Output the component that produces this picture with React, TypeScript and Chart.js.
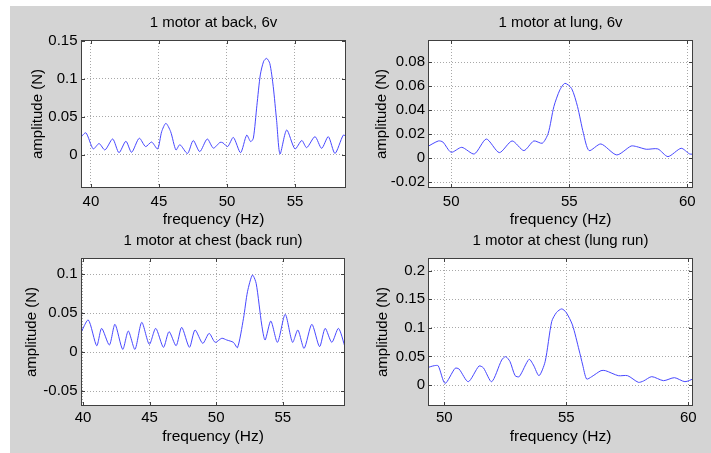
import React, { useEffect, useRef } from "react";
import { Chart, registerables } from "chart.js";

Chart.register(...registerables);

const FONT = "'Liberation Sans', Arial, Helvetica, sans-serif";

// ---------- Panel 1: 1 motor at back, 6v ----------
const titleBack = "1 motor at back, 6v";
const freqBack = [39.2, 39.63, 40.17, 40.6, 41.03, 41.6, 42.06, 42.57, 42.99, 43.55, 44.02, 44.46, 44.9, 45.2, 45.51, 45.86, 46.25, 46.54, 47.1, 47.52, 48.0, 48.55, 49.0, 49.49, 49.7, 50.05, 50.47, 51.0, 51.45, 51.74, 51.94, 52.2, 52.45, 52.7, 52.92, 53.15, 53.4, 53.65, 53.9, 54.39, 55.0, 55.5, 55.86, 56.47, 56.96, 57.45, 57.94, 58.55, 58.8];
const ampBack = [0.022, 0.029, 0.008, 0.015, 0.0066, 0.021, 0.003, 0.018, 0.0035, 0.022, 0.011, 0.017, 0.008, 0.0306, 0.0415, 0.0306, 0.0066, 0.0135, 0.002, 0.019, 0.0044, 0.021, 0.009, 0.0166, 0.016, 0.011, 0.023, 0.003, 0.026, 0.0175, 0.022, 0.065, 0.105, 0.123, 0.1267, 0.12, 0.09, 0.045, 0.0013, 0.0328, 0.008, 0.019, 0.0096, 0.024, 0.0087, 0.024, 0.002, 0.026, 0.024];
const xTicksBack = [40, 45, 50, 55];
const xTickLabelsBack = ["40", "45", "50", "55"];
const yTicksBack = [0, 0.05, 0.1, 0.15];
const yTickLabelsBack = ["0", "0.05", "0.1", "0.15"];

// ---------- Panel 2: 1 motor at lung, 6v ----------
const titleLung = "1 motor at lung, 6v";
const freqLung = [49.0, 49.46, 49.65, 50.0, 50.45, 50.98, 51.49, 52.04, 52.58, 53.08, 53.5, 53.86, 54.11, 54.35, 54.6, 54.82, 55.1, 55.35, 55.6, 55.84, 56.34, 57.01, 57.62, 57.85, 58.26, 58.75, 59.18, 59.74, 60.1, 60.35];
const ampLung = [0.0097, 0.0144, 0.0135, 0.005, 0.0091, 0.0036, 0.016, 0.0047, 0.0144, 0.0064, 0.0144, 0.0125, 0.0208, 0.043, 0.0567, 0.0623, 0.058, 0.043, 0.0208, 0.0064, 0.0119, 0.0028, 0.0102, 0.0097, 0.0075, 0.0078, 0.0014, 0.0083, 0.0036, 0.0036];
const xTicksLung = [50, 55, 60];
const xTickLabelsLung = ["50", "55", "60"];
const yTicksLung = [-0.02, 0, 0.02, 0.04, 0.06, 0.08];
const yTickLabelsLung = ["-0.02", "0", "0.02", "0.04", "0.06", "0.08"];

// ---------- Panel 3: 1 motor at chest (back run) ----------
const titleChestBack = "1 motor at chest (back run)";
const freqChestBack = [39.82, 40.4, 41.03, 41.4, 41.98, 42.4, 42.98, 43.4, 43.9, 44.41, 44.98, 45.46, 46.04, 46.46, 46.99, 47.41, 47.99, 48.41, 48.99, 49.47, 49.92, 50.42, 50.79, 51.29, 51.6, 52.05, 52.35, 52.72, 53.0, 53.42, 53.67, 54.1, 54.6, 55.18, 55.73, 56.13, 56.6, 57.18, 57.76, 58.18, 58.68, 59.18, 59.7];
const ampChestBack = [0.0243, 0.0414, 0.0085, 0.0307, 0.0094, 0.0359, 0.0038, 0.0273, 0.0038, 0.0384, 0.0102, 0.0307, 0.0064, 0.0265, 0.0085, 0.032, 0.0064, 0.0286, 0.0115, 0.0243, 0.0128, 0.018, 0.0158, 0.0128, 0.006, 0.0436, 0.0777, 0.099, 0.0884, 0.035, 0.0158, 0.0401, 0.0128, 0.0487, 0.0128, 0.0286, 0.0051, 0.0359, 0.0073, 0.0307, 0.0128, 0.0307, 0.0051];
const xTicksChestBack = [40, 45, 50, 55];
const xTickLabelsChestBack = ["40", "45", "50", "55"];
const yTicksChestBack = [-0.05, 0, 0.05, 0.1];
const yTickLabelsChestBack = ["-0.05", "0", "0.05", "0.1"];

// ---------- Panel 4: 1 motor at chest (lung run) ----------
const titleChestLung = "1 motor at chest (lung run)";
const freqChestLung = [49.3, 49.59, 49.75, 50.03, 50.44, 50.6, 50.98, 51.42, 51.6, 51.94, 52.35, 52.51, 52.69, 52.9, 53.07, 53.47, 53.65, 53.88, 54.13, 54.4, 54.6, 54.81, 54.99, 55.25, 55.52, 55.67, 55.83, 56.04, 56.42, 56.6, 57.13, 57.51, 57.95, 58.16, 58.5, 58.98, 59.43, 59.86, 60.25];
const ampChestLung = [0.0303, 0.0338, 0.0335, 0.0029, 0.0292, 0.028, 0.0058, 0.0332, 0.03, 0.0058, 0.0437, 0.0496, 0.041, 0.0163, 0.0146, 0.0449, 0.035, 0.0163, 0.0408, 0.111, 0.127, 0.133, 0.127, 0.105, 0.0612, 0.035, 0.0105, 0.0146, 0.0251, 0.0251, 0.0163, 0.0163, 0.0047, 0.007, 0.0146, 0.0076, 0.0128, 0.0058, 0.0117];
const xTicksChestLung = [50, 55, 60];
const xTickLabelsChestLung = ["50", "55", "60"];
const yTicksChestLung = [0, 0.05, 0.1, 0.15, 0.2];
const yTickLabelsChestLung = ["0", "0.05", "0.1", "0.15", "0.2"];

const X_LABEL = "frequency (Hz)";
const Y_LABEL = "amplitude (N)";

type PanelProps = {
  title: string;
  freq: number[];
  amp: number[];
  xTicks: number[];
  xTickLabels: string[];
  yTicks: number[];
  yTickLabels: string[];
  xRange: [number, number];
  yRange: [number, number];
  frame: { cx: number; cy: number; cw: number; ch: number };
  plot: { L: number; T: number; R: number; B: number };
  titlePadTop: number;
  yLabelPad: number;
  yTickPad: number;
  xTickPad: number;
  xLabelPad: number;
};

const framePlugin = {
  id: "matlabFrame",
  beforeDraw(chart: any) {
    const { ctx, chartArea: a } = chart;
    ctx.save();
    ctx.fillStyle = "#ffffff";
    ctx.fillRect(a.left, a.top, a.right - a.left, a.bottom - a.top);
    ctx.restore();
  },
  afterDraw(chart: any) {
    const { ctx, chartArea: a, scales } = chart;
    ctx.save();
    ctx.strokeStyle = "#404040";
    ctx.lineWidth = 1;
    ctx.strokeRect(a.left + 0.5, a.top + 0.5, a.right - a.left - 1, a.bottom - a.top - 1);
    const tl = 4;
    ctx.beginPath();
    scales.x.ticks.forEach((t: any) => {
      const px = Math.round(scales.x.getPixelForValue(t.value)) + 0.5;
      if (px < a.left || px > a.right) return;
      ctx.moveTo(px, a.bottom);
      ctx.lineTo(px, a.bottom - tl);
      ctx.moveTo(px, a.top);
      ctx.lineTo(px, a.top + tl);
    });
    scales.y.ticks.forEach((t: any) => {
      const py = Math.round(scales.y.getPixelForValue(t.value)) + 0.5;
      if (py < a.top || py > a.bottom) return;
      ctx.moveTo(a.left, py);
      ctx.lineTo(a.left + tl, py);
      ctx.moveTo(a.right, py);
      ctx.lineTo(a.right - tl, py);
    });
    ctx.stroke();
    ctx.restore();
  },
};

function Panel(p: PanelProps) {
  const ref = useRef<HTMLCanvasElement | null>(null);
  useEffect(() => {
    if (!ref.current) return;
    const { cx, cy, cw, ch } = p.frame;
    const { L, T, R, B } = p.plot;
    const yW = L - cx;
    const xH = ch - (B - cy);
    const rp = cw - (R - cx);
    const titleH = T - cy;
    const lh = 18;
    const titlePadBottom = titleH - lh - p.titlePadTop;
    const points = p.freq.map((f, i) => ({ x: f, y: p.amp[i] }));
    const chart = new Chart(ref.current, {
      type: "line",
      data: {
        datasets: [
          {
            data: points,
            borderColor: "#4848ff",
            borderWidth: 1,
            pointRadius: 0,
            tension: 0.25,
            fill: false,
          },
        ],
      },
      plugins: [framePlugin],
      options: {
        animation: false,
        responsive: false,
        events: [],
        layout: { padding: { left: 0, top: 0, right: rp, bottom: 0 } },
        plugins: {
          legend: { display: false },
          tooltip: { enabled: false },
          title: {
            display: true,
            text: p.title,
            fullSize: false,
            color: "#000",
            font: { family: FONT, size: 15, weight: "normal", lineHeight: 1.2 },
            padding: { top: p.titlePadTop, bottom: titlePadBottom },
          },
        },
        scales: {
          x: {
            type: "linear",
            min: p.xRange[0],
            max: p.xRange[1],
            afterBuildTicks: (s: any) => {
              s.ticks = p.xTicks.map((v) => ({ value: v }));
            },
            afterFit: (s: any) => {
              s.height = xH;
              s.paddingLeft = 0;
              s.paddingRight = 0;
            },
            ticks: {
              autoSkip: false,
              maxRotation: 0,
              minRotation: 0,
              padding: p.xTickPad,
              color: "#000",
              font: { family: FONT, size: 15, lineHeight: 1.2 },
              callback: (v: any) => {
                const i = p.xTicks.indexOf(Number(v));
                return i >= 0 ? p.xTickLabels[i] : "";
              },
            },
            grid: { color: "#a8a8a8", lineWidth: 1, drawTicks: false },
            border: { display: false, dash: [1, 2] },
            title: {
              display: true,
              text: X_LABEL,
              color: "#000",
              font: { family: FONT, size: 15.5, lineHeight: 1.2 },
              padding: { top: 0, bottom: p.xLabelPad },
            },
          },
          y: {
            type: "linear",
            min: p.yRange[0],
            max: p.yRange[1],
            afterBuildTicks: (s: any) => {
              s.ticks = p.yTicks.map((v) => ({ value: v }));
            },
            afterFit: (s: any) => {
              s.width = yW;
              s.paddingTop = 0;
              s.paddingBottom = 0;
            },
            ticks: {
              autoSkip: false,
              padding: p.yTickPad,
              color: "#000",
              font: { family: FONT, size: 15, lineHeight: 1.2 },
              callback: (v: any) => {
                const i = p.yTicks.indexOf(Number(v));
                return i >= 0 ? p.yTickLabels[i] : "";
              },
            },
            grid: { color: "#a8a8a8", lineWidth: 1, drawTicks: false },
            border: { display: false, dash: [1, 2] },
            title: {
              display: true,
              text: Y_LABEL,
              color: "#000",
              font: { family: FONT, size: 15, lineHeight: 1.2 },
              padding: { top: p.yLabelPad, bottom: 0 },
            },
          },
        },
      },
    } as any);
    return () => chart.destroy();
  }, []);
  const { cx, cy, cw, ch } = p.frame;
  return (
    <canvas
      ref={ref}
      width={cw}
      height={ch}
      style={{ position: "absolute", left: cx, top: cy, width: cw, height: ch }}
    />
  );
}

export default function App() {
  return (
    <div
      style={{
        position: "absolute",
        left: 0,
        top: 0,
        width: 711,
        height: 453,
        background: "#ffffff",
        overflow: "hidden",
        fontFamily: FONT,
      }}
    >
      <div
        style={{
          position: "absolute",
          left: 10,
          top: 6,
          width: 701,
          height: 447,
          background: "#d4d4d4",
        }}
      />
      <Panel
        title={titleBack}
        freq={freqBack}
        amp={ampBack}
        xTicks={xTicksBack}
        xTickLabels={xTickLabelsBack}
        yTicks={yTicksBack}
        yTickLabels={yTickLabelsBack}
        xRange={[39.27, 58.75]}
        yRange={[-0.0433, 0.1508]}
        frame={{ cx: 10, cy: 6, cw: 350, ch: 228 }}
        plot={{ L: 81, T: 40, R: 346, B: 188 }}
        titlePadTop={8}
        yLabelPad={19}
        yTickPad={3.5}
        xTickPad={4.7}
        xLabelPad={5}
      />
      <Panel
        title={titleLung}
        freq={freqLung}
        amp={ampLung}
        xTicks={xTicksLung}
        xTickLabels={xTickLabelsLung}
        yTicks={yTicksLung}
        yTickLabels={yTickLabelsLung}
        xRange={[49.02, 60.24]}
        yRange={[-0.0247, 0.0983]}
        frame={{ cx: 360, cy: 6, cw: 351, ch: 228 }}
        plot={{ L: 428, T: 40, R: 693, B: 188 }}
        titlePadTop={8}
        yLabelPad={13}
        yTickPad={3}
        xTickPad={4.7}
        xLabelPad={5}
      />
      <Panel
        title={titleChestBack}
        freq={freqChestBack}
        amp={ampChestBack}
        xTicks={xTicksChestBack}
        xTickLabels={xTickLabelsChestBack}
        yTicks={yTicksChestBack}
        yTickLabels={yTickLabelsChestBack}
        xRange={[39.85, 59.67]}
        yRange={[-0.0688, 0.1209]}
        frame={{ cx: 10, cy: 226, cw: 350, ch: 227 }}
        plot={{ L: 81, T: 258, R: 345, B: 406 }}
        titlePadTop={5.7}
        yLabelPad={13}
        yTickPad={3.5}
        xTickPad={2.7}
        xLabelPad={7.3}
      />
      <Panel
        title={titleChestLung}
        freq={freqChestLung}
        amp={ampChestLung}
        xTicks={xTicksChestLung}
        xTickLabels={xTickLabelsChestLung}
        yTicks={yTicksChestLung}
        yTickLabels={yTickLabelsChestLung}
        xRange={[49.33, 60.19]}
        yRange={[-0.0367, 0.222]}
        frame={{ cx: 360, cy: 226, cw: 351, ch: 227 }}
        plot={{ L: 428, T: 258, R: 693, B: 406 }}
        titlePadTop={5.7}
        yLabelPad={14.3}
        yTickPad={3}
        xTickPad={3.3}
        xLabelPad={7.3}
      />
    </div>
  );
}
